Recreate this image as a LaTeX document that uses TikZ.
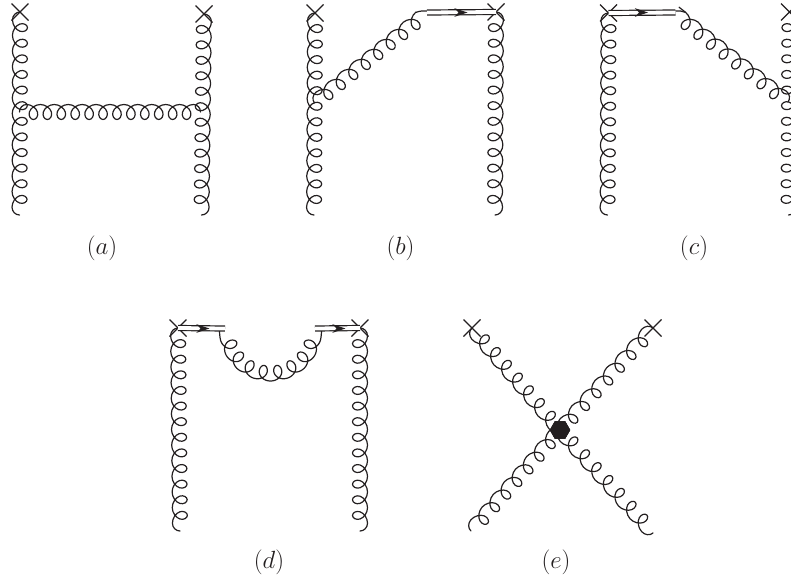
\documentclass[tikz,border=0pt]{standalone}
\usetikzlibrary{decorations,arrows.meta,shapes.misc,shapes.geometric}
\definecolor{inkc}{RGB}{35,31,32}
\def\gB{7.5pt}
\def\gA{7.5pt}
\def\gN{13}
\def\gSfree{0}
\def\gEfree{0}
\def\gh{0.08333}
\def\gsetup{\pgfmathsetmacro\gP{\pgfdecoratedpathlength/\gN}\edef\gP{\gP pt}%
  \pgfmathsetmacro\gW{6.2832*\gA}\edef\gW{\gW pt}%
  \pgfmathsetmacro\gK{6.2832*\gB*\gh}\edef\gK{\gK pt}}
\def\gdrawloop{%
    \pgfpathcurveto{\pgfpoint{\gh*\gP+\gh*\gW}{-\gB}}{\pgfpoint{.25*\gP+\gA-\gh*\gP}{-\gK}}{\pgfpoint{.25*\gP+\gA}{0pt}}%
    \pgfpathcurveto{\pgfpoint{.25*\gP+\gA+\gh*\gP}{\gK}}{\pgfpoint{.5*\gP-\gh*\gP+\gh*\gW}{\gB}}{\pgfpoint{.5*\gP}{\gB}}%
    \pgfpathcurveto{\pgfpoint{.5*\gP+\gh*\gP-\gh*\gW}{\gB}}{\pgfpoint{.75*\gP-\gA-\gh*\gP}{\gK}}{\pgfpoint{.75*\gP-\gA}{0pt}}%
    \pgfpathcurveto{\pgfpoint{.75*\gP-\gA+\gh*\gP}{-\gK}}{\pgfpoint{\gP-\gh*\gP-\gh*\gW}{-\gB}}{\pgfpoint{\gP}{-\gB}}}
\pgfdeclaredecoration{gluonline}{gstart}{
  \state{gstart}[width=.5*\pgfdecoratedpathlength/\gN,next state=gloop]{%
    \gsetup
    \ifnum\gSfree=1
      \pgfpathmoveto{\pgfpoint{0pt}{-\gB}}%
      \pgfpathlineto{\pgfpoint{\gP/2}{-\gB}}%
    \else
      \pgfpathcurveto{\pgfpoint{0pt}{-.55*\gB}}{\pgfpoint{.225*\gP}{-\gB}}{\pgfpoint{\gP/2}{-\gB}}%
    \fi}
  \state{gloop}[width=\pgfdecoratedpathlength/\gN,
     switch if less than=1.75*\pgfdecoratedpathlength/\gN to glastloop]{%
    \gsetup\gdrawloop}
  \state{glastloop}[width=\pgfdecoratedpathlength/\gN,next state=glast]{%
    \gsetup\gdrawloop}
  \state{glast}[width=.25*\pgfdecoratedpathlength/\gN,next state=final]{%
    \gsetup
    \ifnum\gEfree=1 \else
      \pgfpathcurveto{\pgfpoint{.275*\gP}{-\gB}}{\pgfpoint{.5*\gP}{-.55*\gB}}{\pgfpoint{.5*\gP}{0pt}}%
    \fi}
  \state{final}{}
}
\tikzset{
  gluon/.style={draw=inkc,line width=1.2pt,line cap=round,decorate,decoration={gluonline},/utils/exec={\def\gN{#1}}},
  gflip/.style={decoration={mirror}},
  gfreestart/.style={/utils/exec={\def\gSfree{1}}},
  gfreeend/.style={/utils/exec={\def\gEfree{1}}},
  tailline/.style={draw=inkc,line width=1.2pt,line cap=round},
  xmark/.style={cross out,draw=inkc,line width=1.2pt,minimum size=17pt,inner sep=0pt,outer sep=0pt},
  eikonal/.style={draw=inkc,line width=1.2pt,double=white,double distance=3.8pt},
  lab/.style={text=inkc,font=\fontsize{23}{27}\selectfont,inner sep=0pt},
  tip/.style={-{Stealth[length=13pt,width=8.5pt,inset=4pt]},draw=inkc,line width=1pt},
  vertex/.style={regular polygon,regular polygon sides=6,fill=inkc,draw=inkc,minimum size=20pt,inner sep=0pt}
}
\begin{document}
\begin{tikzpicture}[x=1pt,y=-1pt,
  declare function={
    garcin(\u)=and(\u>=0,\u<=8);
    garcr(\u)=garcin(\u)*43.5+garcin(\u)*7.5*cos(360*\u)+(1-garcin(\u))*51;
    garct(\u)=180-20*(\u+0.5)-garcin(\u)*10*sin(360*\u);
  }]
\useasboundingbox (0,0) rectangle (791,579);
\clip (0,0) rectangle (791,579);
% (a)
\node[xmark] (a1) at (20,12) {};
\node[xmark] (a2) at (204,14) {};
\coordinate (a3) at (19.5,215);
\coordinate (a4) at (201.5,215);
\coordinate (a5) at (19.5,112);
\coordinate (a6) at (200.5,112);
\draw[gluon=13] (a1.center) -- (a3);
\draw[gluon=13,gflip] (a2.center) -- (a4);
\draw[gluon=13,gflip] (a5) -- (a6);
\node[lab] (la) at (102,248) {$(a)$};
% (b)
\node[xmark] (b1) at (315,13) {};
\node[xmark] (b2) at (496,12) {};
\coordinate (b3) at (314,215);
\coordinate (b4) at (495,215);
\coordinate (b5) at (314.5,103);
\coordinate (b6) at (426.8,13);
\coordinate (b7) at (416,12.4);
\coordinate (b8) at (427,11);
\coordinate (b9) at (427,12.5);
\coordinate (b10) at (460,12.5);
\coordinate (b11) at (467.5,12.5);
\draw[gluon=13] (b1.center) -- (b3);
\draw[gluon=13,gflip] (b2.center) -- (b4);
\draw[gluon=9,gflip,gfreeend] (b5) -- (b6);
\draw[tailline] (b7) .. controls (420,10.8) and (423,10.8) .. (b8);
\draw[eikonal] (b9) -- (b2.center);
\draw[tip] (b10) -- (b11);
\node[lab] (lb) at (400.5,248) {$(b)$};
% (c)
\node[xmark] (c1) at (608.5,13) {};
\node[xmark] (c2) at (789.5,12) {};
\coordinate (c3) at (607.5,215);
\coordinate (c4) at (788.5,215);
\coordinate (c5) at (788,102);
\coordinate (c6) at (674.4,13.1);
\coordinate (c7) at (685.3,12.3);
\coordinate (c8) at (675.5,11);
\coordinate (c9) at (675.5,12.5);
\coordinate (c10) at (640,12.5);
\coordinate (c11) at (648,12.5);
\draw[gluon=13] (c1.center) -- (c3);
\draw[gluon=13,gflip] (c2.center) -- (c4);
\draw[gluon=9,gflip,gfreestart] (c6) -- (c5);
\draw[tailline] (c8) .. controls (679,10.8) and (682,10.8) .. (c7);
\draw[eikonal] (c1.center) -- (c9);
\draw[tip] (c10) -- (c11);
\node[lab] (lc) at (694,248) {$(c)$};
% (d)
\node[xmark] (d1) at (178,328) {};
\node[xmark] (d2) at (360,328) {};
\coordinate (d3) at (180,531);
\coordinate (d4) at (360,531);
\coordinate (d0) at (270.5,330);
\coordinate (d7) at (225,328.5);
\coordinate (d6) at (315,328.5);
\coordinate (d8) at (202,328.5);
\coordinate (d9) at (209.5,328.5);
\coordinate (d10) at (338,328.5);
\coordinate (d11) at (345.5,328.5);
\draw[gluon=13] (d1.center) -- (d3);
\draw[gluon=13,gflip] (d2.center) -- (d4);
\draw[tailline,shift={(d0)}] plot[domain=-0.5:8.5,samples=541,variable=\u] ({garcr(\u)*cos(garct(\u))},{garcr(\u)*sin(garct(\u))});
\draw[eikonal] (d1.center) -- (d7);
\draw[eikonal] (d6) -- (d2.center);
\draw[tip] (d8) -- (d9);
\draw[tip] (d10) -- (d11);
\node[lab] (ld) at (269,562) {$(d)$};
% (e)
\node[xmark] (e1) at (472,328) {};
\node[xmark] (e2) at (653,328) {};
\coordinate (e3) at (471,531);
\coordinate (e4) at (653,533);
\node[vertex] (e0) at (560,430) {};
\draw[gluon=8] (e1.center) -- (e0.center);
\draw[gluon=8] (e2.center) -- (e0.center);
\draw[gluon=8,gflip] (e3) -- (e0.center);
\draw[gluon=8,gflip] (e4) -- (e0.center);
\node[vertex] (e00) at (e0) {};
\node[lab] (le) at (556,562) {$(e)$};
\end{tikzpicture}
\end{document}
